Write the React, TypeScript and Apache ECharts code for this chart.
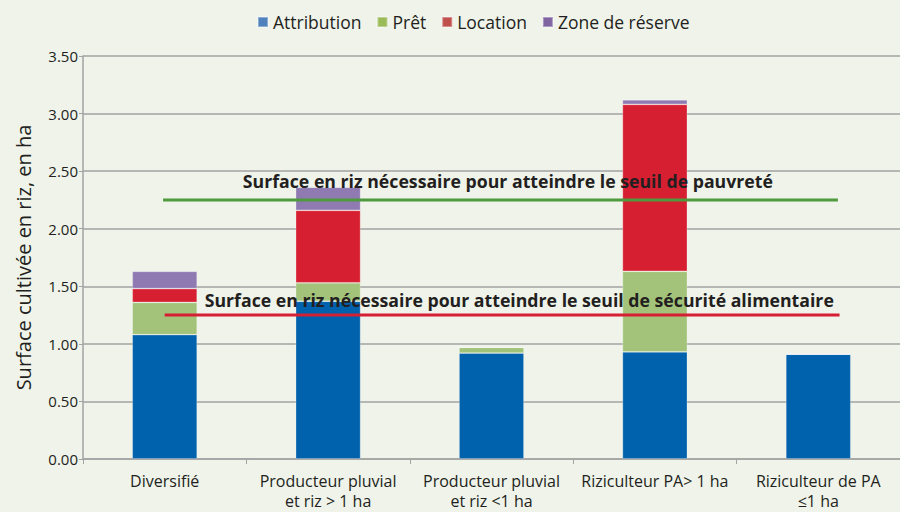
import React, { useEffect, useRef } from "react";
import * as echarts from "echarts";

const categories = [
  "Diversifié",
  "Producteur pluvial\net riz > 1 ha",
  "Producteur pluvial\net riz <1 ha",
  "Riziculteur PA> 1 ha",
  "Riziculteur de PA\n≤1 ha",
];
const attribution = [1.08, 1.37, 0.92, 0.93, 0.91];
const pret = [0.28, 0.16, 0.05, 0.7, 0];
const location = [0.12, 0.63, 0, 1.45, 0];
const zoneReserve = [0.15, 0.2, 0, 0.04, 0];

const yTicks = [0, 0.5, 1, 1.5, 2, 2.5, 3, 3.5];

const seuilPauvrete = 2.25;
const seuilSecurite = 1.25;
const lineSpanPauvrete = [0.49, 4.62];
const lineSpanSecurite = [0.5, 4.63];
const labelAnchorPauvrete = 2.6;
const labelAnchorSecurite = 2.67;
const labelPauvrete = "Surface en riz nécessaire pour atteindre le seuil de pauvreté";
const labelSecurite = "Surface en riz nécessaire pour atteindre le seuil de sécurité alimentaire";

const seriesNames = ["Attribution", "Prêt", "Location", "Zone de réserve"];
const barColors = ["#0061ac", "#a2c379", "#d71f32", "#8f7ab2"];
const legendColors = ["#4f81bd", "#9bbb59", "#c0504d", "#8064a2"];

const TEXT = "#231f20";
const FONT = "'Open Sans', 'Noto Sans', sans-serif";

export default function App() {
  const ref = useRef<HTMLDivElement>(null);
  useEffect(() => {
    if (!ref.current) return;
    document.body.style.margin = "0";
    document.body.style.overflow = "hidden";
    const chart = echarts.init(ref.current, undefined, { renderer: "svg" });
    const values = [attribution, pret, location, zoneReserve];
    const bars = seriesNames.map((name, i) => ({
      name,
      type: "bar",
      stack: "total",
      barWidth: 65,
      data: values[i],
      itemStyle: { color: barColors[i], borderColor: "rgba(255,255,255,0.35)", borderWidth: 0.8 },
      emphasis: { disabled: true },
    }));
    const thresholdLine = (
      value: number,
      span: number[],
      anchor: number,
      color: string,
      text: string,
      dist: number
    ) => ({
      type: "line",
      xAxisIndex: 1,
      data: [
        [span[0], value],
        [span[1], value],
      ],
      symbol: "none",
      silent: true,
      lineStyle: { color, width: 3 },
      z: 3,
      markPoint: {
        silent: true,
        symbol: "circle",
        symbolSize: 0,
        label: {
          show: true,
          position: "top",
          formatter: text,
          color: TEXT,
          fontFamily: FONT,
          fontWeight: "bold",
          fontSize: 17.7,
          distance: dist,
        },
        data: [{ coord: [anchor, value] }],
      },
    });
    chart.setOption({
      animation: false,
      backgroundColor: "#eff3ea",
      textStyle: { fontFamily: FONT, color: TEXT },
      legend: {
        top: 8,
        left: 252,
        itemWidth: 10,
        itemHeight: 10,
        itemGap: 15,
        icon: "rect",
        textStyle: { fontSize: 17.5, color: TEXT, fontFamily: FONT },
        data: seriesNames.map((name, i) => ({ name, itemStyle: { color: legendColors[i] } })),
      },
      grid: { left: 83, right: -4, top: 56, bottom: 53, containLabel: false },
      xAxis: [
        {
          type: "category",
          data: categories,
          axisLine: { lineStyle: { color: "#a3a3a3", width: 1.5 } },
          axisTick: { show: true, length: 5, lineStyle: { color: "#a3a3a3" } },
          axisLabel: {
            color: TEXT,
            fontSize: 16,
            fontFamily: FONT,
            margin: 12,
            lineHeight: 20,
            interval: 0,
          },
        },
        { type: "value", min: 0, max: 5, show: false },
      ],
      yAxis: {
        type: "value",
        min: yTicks[0],
        max: yTicks[yTicks.length - 1],
        interval: 0.5,
        name: "Surface cultivée en riz, en ha",
        nameLocation: "middle",
        nameGap: 50,
        nameTextStyle: { fontSize: 20, color: TEXT, fontFamily: FONT },
        axisLine: { show: true, lineStyle: { color: "#a3a3a3", width: 1.5 } },
        axisTick: { show: true, length: 4, lineStyle: { color: "#a3a3a3" } },
        axisLabel: {
          color: TEXT,
          fontSize: 15,
          fontFamily: FONT,
          margin: 5,
          formatter: (v: number) => v.toFixed(2),
        },
        splitLine: { lineStyle: { color: "#a3a3a3", width: 1.5 } },
      },
      series: [
        ...bars,
        thresholdLine(seuilPauvrete, lineSpanPauvrete, labelAnchorPauvrete, "#4e9a3c", labelPauvrete, 10),
        thresholdLine(seuilSecurite, lineSpanSecurite, labelAnchorSecurite, "#d51f33", labelSecurite, 6),
      ],
    });
    return () => chart.dispose();
  }, []);
  return <div ref={ref} style={{ width: 900, height: 512, position: "absolute", left: 0, top: 0 }} />;
}
